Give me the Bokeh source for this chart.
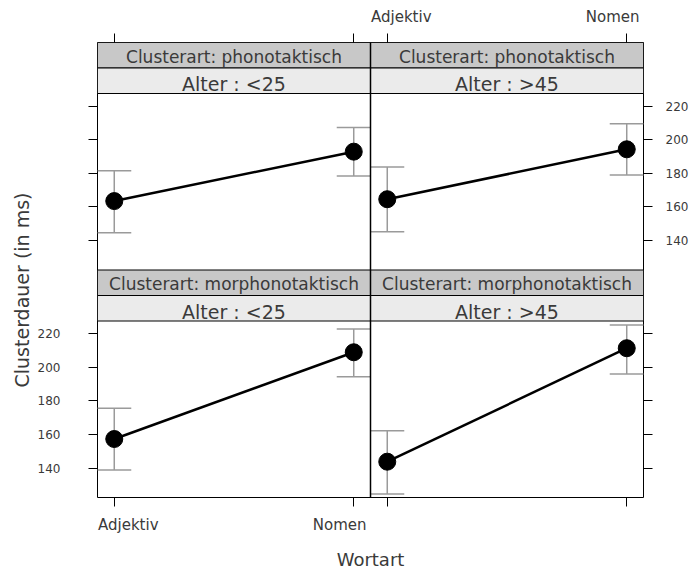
from bokeh.plotting import figure
from bokeh.models import (Range1d, LinearAxis, FixedTicker, CustomJSTickFormatter,
                          ColumnDataSource, Whisker, TeeHead, Title, Span)
from bokeh.core.properties import value
from bokeh.embed import file_html
from bokeh.resources import INLINE

# ---------------- data ----------------
wortart = ["Adjektiv", "Nomen"]
x_pos = [1, 2]
clusterart = ["phonotaktisch", "phonotaktisch", "morphonotaktisch", "morphonotaktisch"]
alter = ["<25", ">45", "<25", ">45"]
fit = [[163.5, 192.9], [164.6, 194.3], [157.3, 208.9], [143.8, 211.3]]
lower = [[144.7, 178.4], [145.3, 179.0], [138.9, 194.4], [124.6, 196.0]]
upper = [[181.6, 207.2], [183.8, 209.5], [175.6, 222.7], [162.2, 225.1]]
y_ticks = [140, 160, 180, 200, 220]
x_title = "Wortart"
y_title = "Clusterdauer (in ms)"

# ---------------- layout ----------------
W, H = 694, 572
ML, MR, MT, MB = 97, 51, 42, 75
FW, FH = W - ML - MR, H - MT - MB
STRIP = 25.5
PANEL = (FH - 4 * STRIP) / 2
COL = FW / 2
XLIM = (0.93, 2.07)
YLIM = (122.5, 227.5)
FONT = "DejaVu Sans"
TXT = "#3a3a3a"


def frame_range(d0, d1, a, b, total):
    upp = (d1 - d0) / (b - a)
    start = d0 - a * upp
    return Range1d(start, start + total * upp)


def conv(v, src, dst):
    return dst.start + (v - src.start) / (src.end - src.start) * (dst.end - dst.start)


xr = {0: frame_range(*XLIM, 0, COL, FW), 1: frame_range(*XLIM, COL, FW, FW)}
yr = {0: frame_range(*YLIM, PANEL + 2 * STRIP, 2 * PANEL + 2 * STRIP, FH),
      1: frame_range(*YLIM, 0, PANEL, FH)}

p = figure(width=W, height=H, x_range=Range1d(0, FW), y_range=Range1d(0, FH),
           output_backend="svg", toolbar_location=None,
           x_axis_location=None, y_axis_location=None,
           min_border_left=ML, min_border_right=MR, min_border_top=MT, min_border_bottom=MB)
p.grid.visible = False
p.outline_line_color = "black"
p.outline_line_width = 1
p.background_fill_color = "white"
p.border_fill_color = "white"
p.extra_x_ranges = {"c0": xr[0], "c1": xr[1]}
p.extra_y_ranges = {"r0": yr[0], "r1": yr[1]}

# ---------------- strips ----------------
for i in range(4):
    row, col = i // 2, i % 2
    top = FH - row * (PANEL + 2 * STRIP)
    left, right = col * COL, (col + 1) * COL
    p.quad(left=[left], right=[right], bottom=[top - STRIP], top=[top],
           fill_color="#c8c8c8", line_color="black", line_width=1)
    p.quad(left=[left], right=[right], bottom=[top - 2 * STRIP], top=[top - STRIP],
           fill_color="#ebebeb", line_color="black", line_width=1)
for i in range(4):
    row, col = i // 2, i % 2
    top = FH - row * (PANEL + 2 * STRIP)
    left, right = col * COL, (col + 1) * COL
    p.text(x=[(left + right) / 2], y=[top - 14], text=["Clusterart: " + clusterart[i]],
           text_font=value(FONT), text_font_size=value("17px"), text_color=TXT,
           text_align="center", text_baseline="middle")
    p.text(x=[(left + right) / 2], y=[top - STRIP - 16], text=["Alter : " + alter[i]],
           text_font=value(FONT), text_font_size=value("19px"), text_color=TXT,
           text_align="center", text_baseline="middle")

p.add_layout(Span(location=COL, dimension="height", line_color="black", line_width=1.5))

# ---------------- panels ----------------
for i in range(4):
    row, col = i // 2, i % 2
    xn, yn = f"c{col}", f"r{row}"
    src = ColumnDataSource(dict(x=x_pos, y=fit[i], lo=lower[i], hi=upper[i]))
    wh = Whisker(source=src, base="x", upper="hi", lower="lo", dimension="height",
                 x_range_name=xn, y_range_name=yn, line_color="#9a9a9a", line_width=1.5,
                 upper_head=TeeHead(size=34, line_color="#9a9a9a", line_width=1.5),
                 lower_head=TeeHead(size=34, line_color="#9a9a9a", line_width=1.5))
    p.add_layout(wh)
    p.line("x", "y", source=src, x_range_name=xn, y_range_name=yn,
           line_color="black", line_width=2.5)
    p.scatter("x", "y", source=src, x_range_name=xn, y_range_name=yn,
              size=17, fill_color="black", line_color="black")

# ---------------- axes ----------------
def style(ax, tick_out=9):
    ax.axis_line_color = None
    ax.major_tick_out = tick_out
    ax.major_tick_in = 0
    ax.minor_tick_out = 0
    ax.minor_tick_in = 0
    ax.major_tick_line_color = "black"
    ax.major_label_text_font = FONT
    ax.major_label_text_color = TXT


shift = 14 / (COL / (XLIM[1] - XLIM[0]))

# bottom: ticks for both panels, labels for left panel
bA = LinearAxis(x_range_name="c0",
                ticker=FixedTicker(ticks=x_pos + [conv(v, xr[1], xr[0]) for v in x_pos]),
                formatter=CustomJSTickFormatter(code="return ''"))
style(bA)
bA.major_label_text_font_size = "0px"
bA.major_label_standoff = 0
bB = LinearAxis(x_range_name="c0", ticker=FixedTicker(ticks=[x_pos[0] + shift, x_pos[1] - shift]),
                formatter=CustomJSTickFormatter(args=dict(labels=wortart),
                                                code="return tick < 1.5 ? labels[0] : labels[1]"))
style(bB, 0)
bB.major_label_text_font_size = "15px"
bB.major_label_standoff = 9
bB.axis_label = x_title
bB.axis_label_standoff = 12
bB.axis_label_text_font = FONT
bB.axis_label_text_font_size = "18px"
bB.axis_label_text_font_style = "normal"
bB.axis_label_text_color = TXT
p.add_layout(bA, "below")
p.add_layout(bB, "below")

# top: ticks for both panels, labels for right panel
tA = LinearAxis(x_range_name="c1",
                ticker=FixedTicker(ticks=[conv(v, xr[0], xr[1]) for v in x_pos] + x_pos),
                formatter=CustomJSTickFormatter(code="return ''"))
style(tA)
tA.major_label_text_font_size = "0px"
tA.major_label_standoff = 0
tB = LinearAxis(x_range_name="c1", ticker=FixedTicker(ticks=[x_pos[0] + shift, x_pos[1] - shift]),
                formatter=CustomJSTickFormatter(args=dict(labels=wortart),
                                                code="return tick < 1.5 ? labels[0] : labels[1]"))
style(tB, 0)
tB.major_label_text_font_size = "15px"
tB.major_label_standoff = 8
p.add_layout(tA, "above")
p.add_layout(tB, "above")

# left: ticks for both rows, labels for bottom row
lA = LinearAxis(y_range_name="r1",
                ticker=FixedTicker(ticks=y_ticks + [conv(v, yr[0], yr[1]) for v in y_ticks]),
                formatter=CustomJSTickFormatter(code="return tick <= 228 ? tick.toFixed(0) : ''"))
style(lA)
lA.major_label_text_font_size = "12px"
lA.major_label_standoff = 28
p.add_layout(lA, "left")
p.add_layout(Title(text=y_title, align="left", offset=110, standoff=4,
                   text_font=FONT, text_font_size="19px", text_font_style="normal",
                   text_color=TXT), "left")

# right: ticks for both rows, labels for top row
rA = LinearAxis(y_range_name="r0",
                ticker=FixedTicker(ticks=y_ticks + [conv(v, yr[1], yr[0]) for v in y_ticks]),
                formatter=CustomJSTickFormatter(code="return tick >= 122 ? tick.toFixed(0) : ''"))
style(rA)
rA.major_label_text_font_size = "12px"
rA.major_label_standoff = 13
p.add_layout(rA, "right")

open("out.html", "w").write(file_html(p, INLINE))
